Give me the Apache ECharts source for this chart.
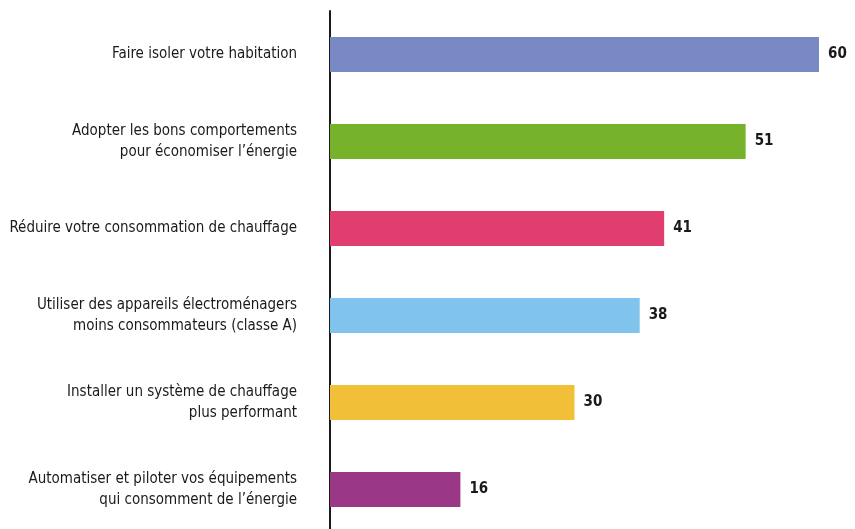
<!DOCTYPE html>
<html>
<head>
<meta charset="utf-8">
<script src="https://cdn.jsdelivr.net/npm/echarts@6/dist/echarts.min.js"></script>
<style>
html, body { margin: 0; padding: 0; background: #fff; }
#chart { width: 855px; height: 529px; }
</style>
</head>
<body>
<div id="chart"></div>
<script>
// données
const categories = [
    'Faire isoler votre habitation',
    'Adopter les bons comportements\npour économiser l’énergie',
    'Réduire votre consommation de chauffage',
    'Utiliser des appareils électroménagers\nmoins consommateurs (classe A)',
    'Installer un système de chauffage\nplus performant',
    'Automatiser et piloter vos équipements\nqui consomment de l’énergie'
];
const values = [60, 51, 41, 38, 30, 16];
const barColors = ['#7889c3', '#76b32a', '#e03e6e', '#80c3ed', '#f2bf38', '#9b3886'];

const fontFamily = '"DejaVu Sans Condensed", "Liberation Sans Narrow", sans-serif';

document.addEventListener('DOMContentLoaded', function() {
    const myChart = echarts.init(document.getElementById('chart'));
    const option = {
    animation: false,
    grid: {
    left: 330,
    right: 36,
    top: 11,
    height: 522,
    containLabel: false,
    outerBoundsMode: 'none'
    },
    xAxis: {
    type: 'value',
    min: 0,
    max: 60,
    show: false
    },
    yAxis: {
    type: 'category',
    inverse: true,
    data: categories,
    axisLine: {
    lineStyle: { color: '#1a1a1a', width: 2 }
    },
    axisTick: { show: false },
    axisLabel: {
    margin: 33,
    color: '#1a1a1a',
    fontFamily: fontFamily,
    fontSize: 15,
    lineHeight: 21,
    align: 'right'
    }
    },
    series: [
    {
    type: 'bar',
    barWidth: 35,
    data: values.map(function(v, i) {
    return { value: v, itemStyle: { color: barColors[i] } };
    }),
    label: {
    show: true,
    position: 'right',
    distance: 9,
    color: '#1a1a1a',
    fontFamily: fontFamily,
    fontSize: 15,
    fontWeight: 'bold'
    }
    }
    ]
    };
    myChart.setOption(option);
});
</script>
</body>
</html>
